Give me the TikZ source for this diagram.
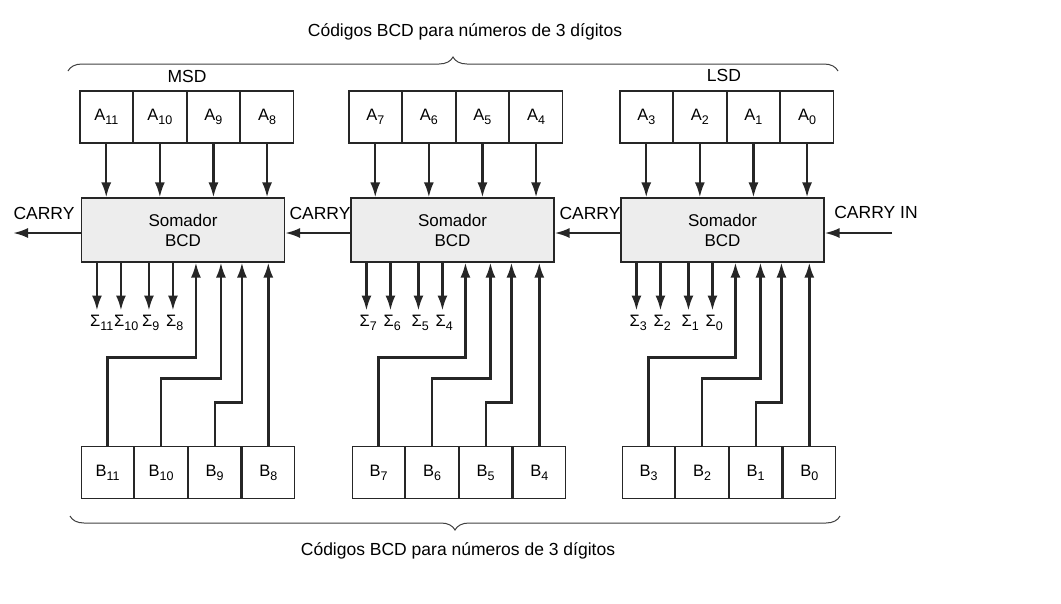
\documentclass[tikz,border=0pt]{standalone}
\usepackage{fontspec}
\setmainfont{Liberation Sans}
\usetikzlibrary{arrows.meta,positioning,calc,decorations.pathreplacing}

\newcommand{\sbx}[1]{\raisebox{-0.25em}{\fontsize{12.5}{14}\selectfont #1}}

\tikzset{
  reg/.style={draw=black!85, line width=1.1pt, minimum width=52.5pt, minimum height=52pt,
    inner sep=0pt, font=\fontsize{16.5}{19}\selectfont},
  adder/.style={draw=black!85, line width=1.1pt, fill=black!7, minimum width=203pt,
    minimum height=64pt, align=center, font=\fontsize{17}{20}\selectfont},
  wire/.style={draw=black!85, line width=2.4pt, -{Latex[length=15pt,width=10pt]}},
  lbl/.style={inner sep=0pt, font=\fontsize{17.5}{20}\selectfont},
  sumlbl/.style={inner sep=0pt, anchor=north west, font=\fontsize{16.5}{19}\selectfont},
  brc/.style={draw=black!75, line width=1pt, decorate, decoration={brace, amplitude=14pt}}
}

\begin{document}
\begin{tikzpicture}[x=1pt,y=-1pt]
  \useasboundingbox (0,0) rectangle (1061,603);

  % registradores A
  \node[reg] (a11) at (106.25,117) {A\sbx{11}};
  \node[reg,right=0pt of a11] (a10) {A\sbx{10}};
  \node[reg,right=0pt of a10] (a9) {A\sbx{9}};
  \node[reg,right=0pt of a9] (a8) {A\sbx{8}};
  \node[reg] (a7) at (375.25,117) {A\sbx{7}};
  \node[reg,right=0pt of a7] (a6) {A\sbx{6}};
  \node[reg,right=0pt of a6] (a5) {A\sbx{5}};
  \node[reg,right=0pt of a5] (a4) {A\sbx{4}};
  \node[reg] (a3) at (646.25,117) {A\sbx{3}};
  \node[reg,right=0pt of a3] (a2) {A\sbx{2}};
  \node[reg,right=0pt of a2] (a1) {A\sbx{1}};
  \node[reg,right=0pt of a1] (a0) {A\sbx{0}};

  % somadores
  \node[adder] (ad2) at (183,230) {Somador\\BCD};
  \node[adder] (ad1) at (452.5,230) {Somador\\BCD};
  \node[adder] (ad0) at (722.5,230) {Somador\\BCD};

  % registradores B
  \node[reg] (b11) at (107.5,472.5) {B\sbx{11}};
  \node[reg,right=0pt of b11] (b10) {B\sbx{10}};
  \node[reg,right=0pt of b10] (b9) {B\sbx{9}};
  \node[reg,right=0pt of b9] (b8) {B\sbx{8}};
  \node[reg] (b7) at (378.5,472.5) {B\sbx{7}};
  \node[reg,right=0pt of b7] (b6) {B\sbx{6}};
  \node[reg,right=0pt of b6] (b5) {B\sbx{5}};
  \node[reg,right=0pt of b5] (b4) {B\sbx{4}};
  \node[reg] (b3) at (648.5,472.5) {B\sbx{3}};
  \node[reg,right=0pt of b3] (b2) {B\sbx{2}};
  \node[reg,right=0pt of b2] (b1) {B\sbx{1}};
  \node[reg,right=0pt of b1] (b0) {B\sbx{0}};

  \node[lbl] (msd) at (187,76) {MSD};
  \node[lbl] (lsd) at (724,75) {LSD};

  % entradas A, saidas e entradas B de cada somador
  \foreach \ad/\ha/\hb/\hc/\hd/\sa/\sb/\sc/\sd in
      {ad2/11/10/9/8/11/10/9/8, ad1/7/6/5/4/7/6/5/4, ad0/3/2/1/0/3/2/1/0} {
    \foreach \n in {\ha,\hb,\hc,\hd}
      \draw[wire] (a\n) -- (a\n |- \ad.north);
    \foreach \n/\dx in {\sa/16,\sb/40,\sc/68,\sd/92} {
      \coordinate (t\n) at ($(\ad.south west)+(\dx,48)$);
      \draw[wire] (\ad.south -| t\n) -- (t\n);
      \node[sumlbl] (s\n) at ($(t\n)+(-7,4)$) {Σ\sbx{\n}};
    }
    \coordinate (c\ha) at ($(\ad.south west)+(115,95)$);
    \coordinate (c\hb) at ($(\ad.south west)+(140,116)$);
    \coordinate (c\hc) at ($(\ad.south west)+(161,140)$);
    \draw[wire] (b\ha.north) |- (c\ha) -- (c\ha |- \ad.south);
    \draw[wire] (b\hb.north) |- (c\hb) -- (c\hb |- \ad.south);
    \draw[wire] (b\hc.north) |- (c\hc) -- (c\hc |- \ad.south);
    \draw[wire] (b\hd) -- (b\hd |- \ad.south);
  }

  % carry
  \coordinate (cout) at (13,233);
  \coordinate (cinp) at (892,233);
  \draw[wire] ([yshift=-3pt]ad2.west) -- (cout);
  \draw[wire] ([yshift=-3pt]ad1.west) -- ([yshift=-3pt]ad2.east);
  \draw[wire] ([yshift=-3pt]ad0.west) -- ([yshift=-3pt]ad1.east);
  \draw[wire] (cinp) -- ([yshift=-3pt]ad0.east);
  \node[lbl] (cy2) at (44,213) {CARRY};
  \node[lbl] (cy1) at (320,213) {CARRY};
  \node[lbl] (cy0) at (590,213) {CARRY};
  \node[lbl] (cin) at (876,212) {CARRY IN};

  % chaves
  \draw[brc] (68,71) -- (838,71);
  \draw[brc] (840,516) -- (70,516);
  \node[lbl,font=\fontsize{17.5}{20}\selectfont] (captop) at (465,32) {Códigos BCD para números de 3 dígitos};
  \node[lbl,font=\fontsize{17.5}{20}\selectfont] (capbot) at (458,551) {Códigos BCD para números de 3 dígitos};
\end{tikzpicture}
\end{document}
